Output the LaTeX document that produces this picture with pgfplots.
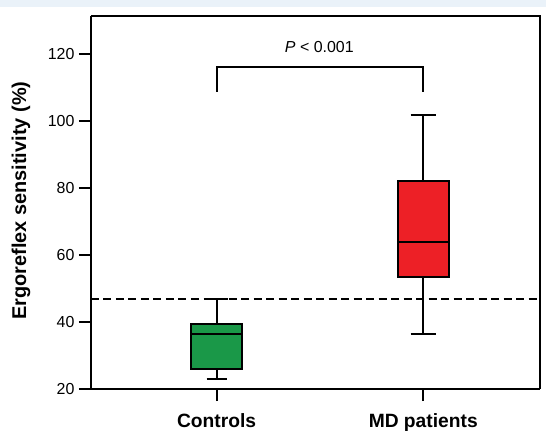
\documentclass[border=0pt]{standalone}
\usepackage{fontspec}
\setmainfont{Liberation Sans}
\usepackage{pgfplots}
\pgfplotsset{compat=1.18}
\definecolor{boxgreen}{RGB}{26,152,72}
\definecolor{boxred}{RGB}{237,32,38}
\definecolor{bandblue}{RGB}{234,242,249}
\begin{document}
\begin{tikzpicture}
\fill[bandblue] (-91bp,389bp) rectangle (455bp,382bp);
\path[use as bounding box] (-91bp,-43bp) rectangle (455bp,389bp);
\begin{axis}[
  at={(0,0)}, anchor=south west,
  scale only axis, width=449bp, height=373bp,
  xmin=0.392, xmax=2.565,
  ymin=20, ymax=131.4,
  ytick={20,40,...,120},
  xtick={1,2},
  xticklabels={Controls,MD patients},
  /pgf/number format/assume math mode=true,
  yticklabel style={font=\fontsize{16}{18}\selectfont, xshift=-1bp},
  xticklabel style={font=\fontsize{19.3}{22}\selectfont\bfseries, yshift=-9bp},
  tick align=outside,
  major tick length=12bp,
  tick style={line width=2bp, black},
  axis line style={line width=2bp},
  axis x line*=bottom, axis y line*=left,
  ylabel={Ergoreflex sensitivity (\%)},
  ylabel style={font=\fontsize{20}{22}\selectfont\bfseries, at={(axis description cs:-0.156,0.505)}, anchor=center},
  clip=false,
]
\draw[line width=2bp] (rel axis cs:0,1) -- (rel axis cs:1,1) -- (rel axis cs:1,0);
\addplot[line width=2bp, dash pattern=on 8bp off 4.5bp] coordinates {(0.392,47) (2.565,47)};
% Controls
\addplot[black, line width=2bp] coordinates {(1,22.9) (1,25.9)};
\addplot[black, line width=2bp] coordinates {(1,39.5) (1,47.0)};
\addplot[black, line width=2bp] coordinates {(0.952,22.9) (1.048,22.9)};
\addplot[black, line width=2bp] coordinates {(0.945,47.0) (1.055,47.0)};
\addplot[fill=boxgreen, draw=black, line width=2bp] coordinates {(0.877,25.9) (1.123,25.9) (1.123,39.5) (0.877,39.5)} -- cycle;
\addplot[black, line width=2bp] coordinates {(0.877,36.4) (1.123,36.4)};
% MD patients
\addplot[black, line width=2bp] coordinates {(2,36.5) (2,53.4)};
\addplot[black, line width=2bp] coordinates {(2,82.1) (2,101.9)};
\addplot[black, line width=2bp] coordinates {(1.939,36.5) (2.061,36.5)};
\addplot[black, line width=2bp] coordinates {(1.939,101.9) (2.061,101.9)};
\addplot[fill=boxred, draw=black, line width=2bp] coordinates {(1.877,53.4) (2.123,53.4) (2.123,82.1) (1.877,82.1)} -- cycle;
\addplot[black, line width=2bp] coordinates {(1.877,63.9) (2.123,63.9)};
% bracket
\addplot[black, line width=2bp] coordinates {(1,108.8) (1,116.1) (2,116.1) (2,108.8)};
\node[font=\fontsize{16}{18}\selectfont] at (axis cs:1.497,122.0) {\textit{P} < 0.001};
\end{axis}
\end{tikzpicture}
\end{document}
